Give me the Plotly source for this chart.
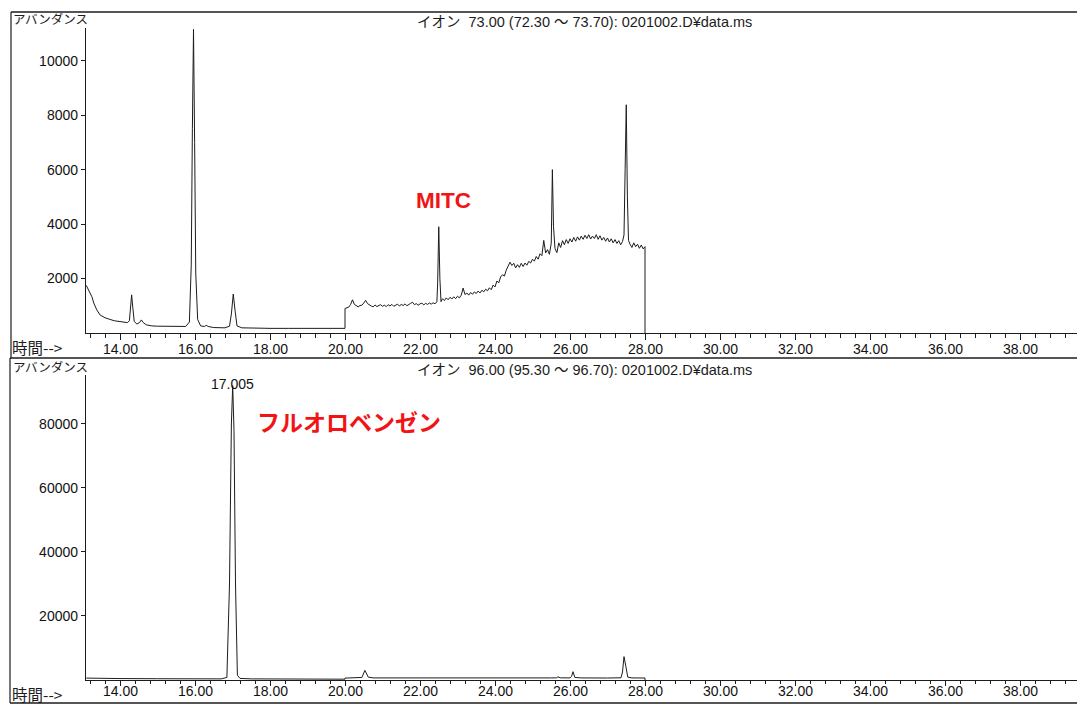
import plotly.graph_objects as go

W, H = 1077, 706

# ---- m/z 73 extracted ion chromatogram (upper panel) ----
ion73_time_early = [
    13.10, 13.15, 13.20, 13.25, 13.30, 13.38, 13.47, 13.60, 13.73, 13.85,
    14.00, 14.10, 14.20, 14.25, 14.28, 14.31, 14.34, 14.38, 14.45, 14.52,
    14.57, 14.62, 14.70, 14.85, 15.00, 15.30, 15.60, 15.75, 15.85, 15.90,
    15.93, 15.96, 15.99, 16.02, 16.07, 16.15, 16.25, 16.30, 16.35, 16.50,
    16.80, 16.92, 16.97, 17.02, 17.07, 17.12, 17.25, 17.50, 18.00, 18.50,
    19.00, 19.50, 20.00,
]
ion73_abund_early = [
    1750, 1600, 1450, 1330, 1100, 850, 660, 560, 500, 450,
    420, 400, 380, 450, 950, 1400, 950, 420, 330, 380,
    480, 380, 300, 260, 250, 240, 230, 240, 400, 2500,
    7500, 11150, 7000, 2200, 500, 260, 240, 280, 240, 200,
    190, 250, 700, 1430, 800, 260, 190, 180, 170, 170,
    165, 165, 170,
]

ion73_time_late = [
    20.00, 20.05, 20.10, 20.15, 20.20, 20.25, 20.30, 20.35, 20.40, 20.45,
    20.50, 20.55, 20.60, 20.65, 20.70, 20.75, 20.80, 20.85, 20.90, 20.95,
    21.00, 21.05, 21.10, 21.15, 21.20, 21.25, 21.30, 21.35, 21.40, 21.45,
    21.50, 21.55, 21.60, 21.65, 21.70, 21.75, 21.80, 21.85, 21.90, 21.95,
    22.00, 22.05, 22.10, 22.15, 22.20, 22.25, 22.30, 22.35, 22.40, 22.45,
    22.47, 22.50, 22.53, 22.56, 22.60, 22.65, 22.70, 22.75, 22.80, 22.85,
    22.90, 22.95, 23.00, 23.05, 23.10, 23.15, 23.20, 23.25, 23.30, 23.35,
    23.40, 23.45, 23.50, 23.55, 23.60, 23.65, 23.70, 23.75, 23.80, 23.85,
    23.90, 23.95, 24.00, 24.05, 24.10, 24.15, 24.20, 24.25, 24.30, 24.35,
    24.40, 24.45, 24.50, 24.55, 24.60, 24.65, 24.70, 24.75, 24.80, 24.85,
    24.90, 24.95, 25.00, 25.05, 25.10, 25.15, 25.20, 25.25, 25.30, 25.35,
    25.40, 25.45, 25.50, 25.53, 25.56, 25.60, 25.65, 25.70, 25.75, 25.80,
    25.85, 25.90, 25.95, 26.00, 26.05, 26.10, 26.15, 26.20, 26.25, 26.30,
    26.35, 26.40, 26.45, 26.50, 26.55, 26.60, 26.65, 26.70, 26.75, 26.80,
    26.85, 26.90, 26.95, 27.00, 27.05, 27.10, 27.15, 27.20, 27.25, 27.30,
    27.35, 27.40, 27.44, 27.47, 27.50, 27.53, 27.56, 27.60, 27.65, 27.70,
    27.75, 27.80, 27.85, 27.90, 27.95, 28.00, 28.00,
]
ion73_abund_late = [
    900, 920, 950, 1050, 1220, 1050, 1000, 960, 1010, 1020,
    1100, 1200, 1080, 1020, 990, 960, 1030, 970, 1010, 1040,
    980, 1020, 970, 1040, 990, 1050, 980, 1030, 1060, 990,
    1050, 1010, 1070, 1000, 1060, 1090, 1130, 1040, 1080, 1020,
    1070, 1100, 1030, 1090, 1050, 1100, 1060, 1110, 1070, 1150,
    1800, 3900, 2000, 1150, 1260, 1190, 1290, 1220, 1310, 1250,
    1330, 1260, 1350, 1290, 1390, 1650, 1410, 1470, 1390, 1490,
    1420, 1510, 1450, 1540, 1470, 1570, 1510, 1610, 1550, 1660,
    1590, 1760, 1690, 1910, 1840, 2060, 2140, 2090, 2310, 2440,
    2600, 2480, 2560, 2390, 2510, 2410, 2560, 2440, 2570, 2490,
    2630, 2570, 2710, 2640, 2810, 2710, 2910, 2840, 3400, 2940,
    3060, 2890, 3300, 6000, 3900, 3100, 2950, 3310, 3140, 3390,
    3240, 3430, 3290, 3460, 3340, 3510, 3370, 3530, 3410, 3560,
    3440, 3590, 3470, 3610, 3450, 3560, 3470, 3610, 3440, 3570,
    3410, 3510, 3370, 3490, 3340, 3460, 3310, 3430, 3290, 3390,
    3240, 3360, 3600, 6000, 8380, 5000, 3400, 3260, 3140, 3310,
    3170, 3260, 3110, 3230, 3090, 3170, 0,
]

# ---- m/z 96 extracted ion chromatogram (lower panel) ----
ion96_time = [
    13.10, 13.50, 14.00, 15.00, 16.00, 16.70, 16.85, 16.92, 16.97, 17.005,
    17.04, 17.08, 17.13, 17.20, 17.50, 18.00, 19.00, 20.00, 20.00, 20.30,
    20.45, 20.53, 20.62, 20.75, 21.50, 22.50, 23.50, 24.50, 25.50, 25.64,
    25.68, 25.74, 26.00, 26.04, 26.08, 26.13, 26.30, 27.00, 27.36, 27.40,
    27.44, 27.49, 27.54, 27.65, 28.00, 28.00,
]
ion96_abund = [
    600, 500, 450, 400, 350, 350, 800, 30000, 80000, 92000,
    78000, 30000, 1500, 500, 350, 300, 250, 250, 600, 650,
    800, 3000, 900, 650, 620, 650, 630, 650, 650, 680,
    1000, 680, 650, 1100, 2600, 800, 650, 620, 700, 2500,
    7300, 4200, 900, 650, 620, 0,
]

peak96_time = 17.005
peak96_abund = 92000

ion73_header = "イオン  73.00 (72.30 ～ 73.70): 0201002.D¥data.ms"
ion96_header = "イオン  96.00 (95.30 ～ 96.70): 0201002.D¥data.ms"

x_ticks = [14, 16, 18, 20, 22, 24, 26, 28, 30, 32, 34, 36, 38]
y73_ticks = [2000, 4000, 6000, 8000, 10000]
y96_ticks = [20000, 40000, 60000, 80000]


def px(x):
    return x / W


def py(y):
    return 1 - y / H


INK = "#1c1c1c"
NUM_FONT = "Liberation Sans, Arial, Noto Sans CJK JP, sans-serif"
JP_FONT = "Noto Sans CJK JP, sans-serif"

fig = go.Figure()
fig.add_trace(go.Scatter(
    x=ion73_time_early + ion73_time_late,
    y=ion73_abund_early + ion73_abund_late,
    mode="lines", line=dict(color=INK, width=1), xaxis="x", yaxis="y",
    hoverinfo="skip", showlegend=False,
))
fig.add_trace(go.Scatter(
    x=ion96_time, y=ion96_abund,
    mode="lines", line=dict(color=INK, width=1), xaxis="x2", yaxis="y2",
    hoverinfo="skip", showlegend=False,
))

x_dom = [px(86), 1.0]
x_range = [14 - 34 / 37.5, 14 + (W - 120) / 37.5]


def x_axis(anchor, ticklen):
    return dict(
        domain=x_dom, range=x_range, anchor=anchor,
        tickmode="array", tickvals=x_ticks, showticklabels=False,
        ticks="outside", ticklen=ticklen, tickwidth=1, tickcolor=INK,
        minor=dict(tickmode="linear", tick0=14, dtick=0.4, ticks="outside",
                   ticklen=max(ticklen - 2, 3), tickwidth=1, tickcolor=INK),
        showline=True, linecolor=INK, linewidth=1.3,
        showgrid=False, zeroline=False, automargin=False,
    )


def y_axis(anchor, dom, top, ticks):
    return dict(
        domain=dom, range=[0, top], anchor=anchor,
        tickmode="array", tickvals=ticks, ticktext=[str(v) for v in ticks],
        ticks="outside", ticklen=4, tickwidth=1, tickcolor=INK,
        showline=True, linecolor=INK, linewidth=1.3,
        showgrid=False, zeroline=False, automargin=False,
        ticklabelstandoff=0,
        tickfont=dict(family=NUM_FONT, size=14, color="#111"),
    )


fig.update_layout(
    width=W, height=H,
    margin=dict(l=0, r=0, t=0, b=0),
    paper_bgcolor="white", plot_bgcolor="white",
    xaxis=x_axis("y", 6),
    yaxis=y_axis("x", [py(333), py(28)], 11200, y73_ticks),
    xaxis2=x_axis("y2", 5),
    yaxis2=y_axis("x2", [py(680), py(375)], 95300, y96_ticks),
)

# time labels under each time axis
for xref, ypix in (("x", 349), ("x2", 691)):
    for t in x_ticks:
        fig.add_annotation(xref=xref, yref="paper", x=t, y=py(ypix),
                           text=f"{t:.2f}", showarrow=False,
                           xanchor="center", yanchor="middle",
                           font=dict(family=NUM_FONT, size=14, color="#111"))

# frame lines of the printout
frame = [
    (11, 12, W, 12, 1.6),
    (11, 12, 11, 358, 1.2),
    (10, 358, W, 358, 1.6),
    (10, 358, 10, 703, 1.2),
    (10, 703, W, 703, 1.6),
]
for x0, y0, x1, y1, w in frame:
    fig.add_shape(type="line", xref="paper", yref="paper",
                  x0=px(x0), y0=py(y0), x1=px(x1), y1=py(y1),
                  line=dict(color=INK, width=w))

ann = [
    (11, 18, "アバンダンス", JP_FONT, 12.5, "left"),
    (415, 22, ion73_header, NUM_FONT, 14.5, "left"),
    (10, 347, "時間-->", JP_FONT, 15.5, "left"),
    (11, 366, "アバンダンス", JP_FONT, 12.5, "left"),
    (415, 370, ion96_header, NUM_FONT, 14.5, "left"),
    (10, 694, "時間-->", JP_FONT, 15.5, "left"),
]
for x, y, text, fam, size, anchor in ann:
    fig.add_annotation(xref="paper", yref="paper", x=px(x), y=py(y),
                       text=text, showarrow=False, xanchor=anchor,
                       yanchor="middle",
                       font=dict(family=fam, size=size, color=INK))

# retention time label on the internal standard peak
fig.add_annotation(xref="x2", yref="y2", x=peak96_time, y=peak96_abund,
                   text=f"{peak96_time:.3f}", showarrow=False,
                   xanchor="center", yanchor="middle", yshift=2,
                   font=dict(family=NUM_FONT, size=14, color="#111"))

# compound names
fig.add_annotation(xref="paper", yref="paper", x=px(443), y=py(200),
                   text="<b>MITC</b>", showarrow=False, xanchor="center",
                   yanchor="middle",
                   font=dict(family="Liberation Sans, Arial, sans-serif",
                             size=22.5, color="#f21414"))
fig.add_annotation(xref="paper", yref="paper", x=px(349), y=py(421),
                   text="<b>フルオロベンゼン</b>", showarrow=False,
                   xanchor="center", yanchor="middle",
                   font=dict(family=JP_FONT, size=23, color="#f21414"))

fig.write_html("out.html")
